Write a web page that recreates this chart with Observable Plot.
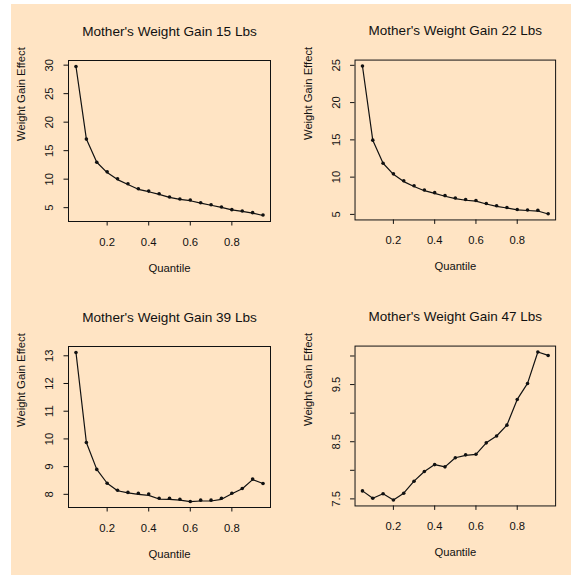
<!DOCTYPE html>
<html><head><meta charset="utf-8">
<script src="https://cdn.jsdelivr.net/npm/d3@7"></script>
<script src="https://cdn.jsdelivr.net/npm/@observablehq/plot@0.6"></script>
<style>
html,body{margin:0;padding:0;background:#fff;width:571px;height:575px;overflow:hidden;}
#bg{position:absolute;left:11px;top:4px;width:560px;height:571px;background:#FFE4C4;}
.panel{position:absolute;}
</style></head><body>
<div id="bg"></div>
<div id="p1" class="panel" style="left:0px;top:0px"></div>
<div id="p2" class="panel" style="left:287px;top:0px"></div>
<div id="p3" class="panel" style="left:0px;top:286px"></div>
<div id="p4" class="panel" style="left:287px;top:286px"></div>
<script>
const quantiles = [0.05,0.10,0.15,0.20,0.25,0.30,0.35,0.40,0.45,0.50,0.55,0.60,0.65,0.70,0.75,0.80,0.85,0.90,0.95];
const titles = ["Mother's Weight Gain 15 Lbs","Mother's Weight Gain 22 Lbs","Mother's Weight Gain 39 Lbs","Mother's Weight Gain 47 Lbs"];
const xLabel = "Quantile";
const yLabel = "Weight Gain Effect";
const xTicks = [0.2,0.4,0.6,0.8];

// points (estimates) and fitted line
const effect15 = [29.77,17.03,12.97,11.28,10.06,9.19,8.31,7.91,7.44,6.86,6.51,6.34,5.87,5.52,5.12,4.65,4.42,4.13,3.72];
const fit15    = [29.77,17.03,12.97,11.15,9.92,9.05,8.22,7.80,7.33,6.80,6.45,6.22,5.80,5.43,5.06,4.60,4.36,4.05,3.62];
const effect22 = [24.91,14.96,11.86,10.44,9.51,8.85,8.27,7.92,7.52,7.21,6.99,6.86,6.46,6.15,5.93,5.66,5.58,5.55,5.09];
const fit22    = [24.91,14.96,11.86,10.38,9.40,8.75,8.18,7.82,7.44,7.12,6.90,6.78,6.40,6.07,5.86,5.60,5.52,5.45,5.05];
const effect39 = [13.12,9.87,8.90,8.40,8.15,8.07,8.04,8.01,7.86,7.86,7.82,7.74,7.79,7.79,7.86,8.04,8.21,8.55,8.39];
const fit39    = [13.12,9.87,8.90,8.40,8.13,8.05,8.00,7.96,7.83,7.82,7.79,7.74,7.76,7.76,7.82,8.02,8.20,8.53,8.39];
const effect47 = [7.64,7.51,7.59,7.48,7.60,7.81,7.98,8.10,8.06,8.22,8.27,8.28,8.48,8.60,8.79,9.24,9.52,10.07,10.01];
const fit47    = [7.64,7.51,7.59,7.48,7.60,7.81,7.98,8.10,8.06,8.22,8.26,8.28,8.48,8.60,8.79,9.24,9.52,10.07,10.01];

const yTicks15 = [5,10,15,20,25,30];
const yTicks22 = [5,10,15,20,25];
const yTicks39 = [8,9,10,11,12,13];
const yTicks47 = [7.5,8,8.5,9,9.5,10];
const yShown47 = [7.5,8.5,9.5];

function pad(ext){ const r = ext[1]-ext[0]; return [ext[0]-0.04*r, ext[1]+0.04*r]; }

function panel(el, title, pts, fit, yTicks, yShown){
  const P = quantiles.map((q,i)=>({q, v: pts[i]}));
  const F = quantiles.map((q,i)=>({q, v: fit[i]}));
  const xd = pad(d3.extent(quantiles));
  const yd = pad(d3.extent(pts.concat(fit)));
  const chart = Plot.plot({
    width: 286, height: 287,
    marginLeft: 68, marginRight: 16, marginTop: 60, marginBottom: 66,
    style: {background: "transparent", fontFamily: "'Liberation Sans', Arial, sans-serif", fontSize: "11.3px", color: "#111"},
    x: {domain: xd},
    y: {domain: yd},
    marks: [
      Plot.frame({stroke: "#111", strokeWidth: 1}),
      Plot.axisX({ticks: xTicks, tickSize: 4.5, tickPadding: 12, tickFormat: d => String(d), label: null}),
      Plot.axisY({ticks: yTicks, tickSize: 4.5, tickRotate: -90, tickPadding: 11,
        tickFormat: d => (yShown ? (yShown.includes(d) ? String(d) : "") : String(d)), label: null}),
      Plot.line(F, {x: "q", y: "v", stroke: "#111", strokeWidth: 1.2}),
      Plot.dot(P, {x: "q", y: "v", r: 1.8, fill: "#111", stroke: "none"}),
      Plot.text([title], {frameAnchor: "top", dy: -25, lineAnchor: "bottom", fontSize: 13.6}),
      Plot.text([xLabel], {frameAnchor: "bottom", dy: 47, lineAnchor: "middle"}),
      Plot.text([yLabel], {frameAnchor: "left", dx: -47, rotate: -90, lineAnchor: "middle"})
    ]
  });
  document.getElementById(el).appendChild(chart);
}
panel("p1", titles[0], effect15, fit15, yTicks15, null);
panel("p2", titles[1], effect22, fit22, yTicks22, null);
panel("p3", titles[2], effect39, fit39, yTicks39, null);
panel("p4", titles[3], effect47, fit47, yTicks47, yShown47);
</script>
</body></html>
